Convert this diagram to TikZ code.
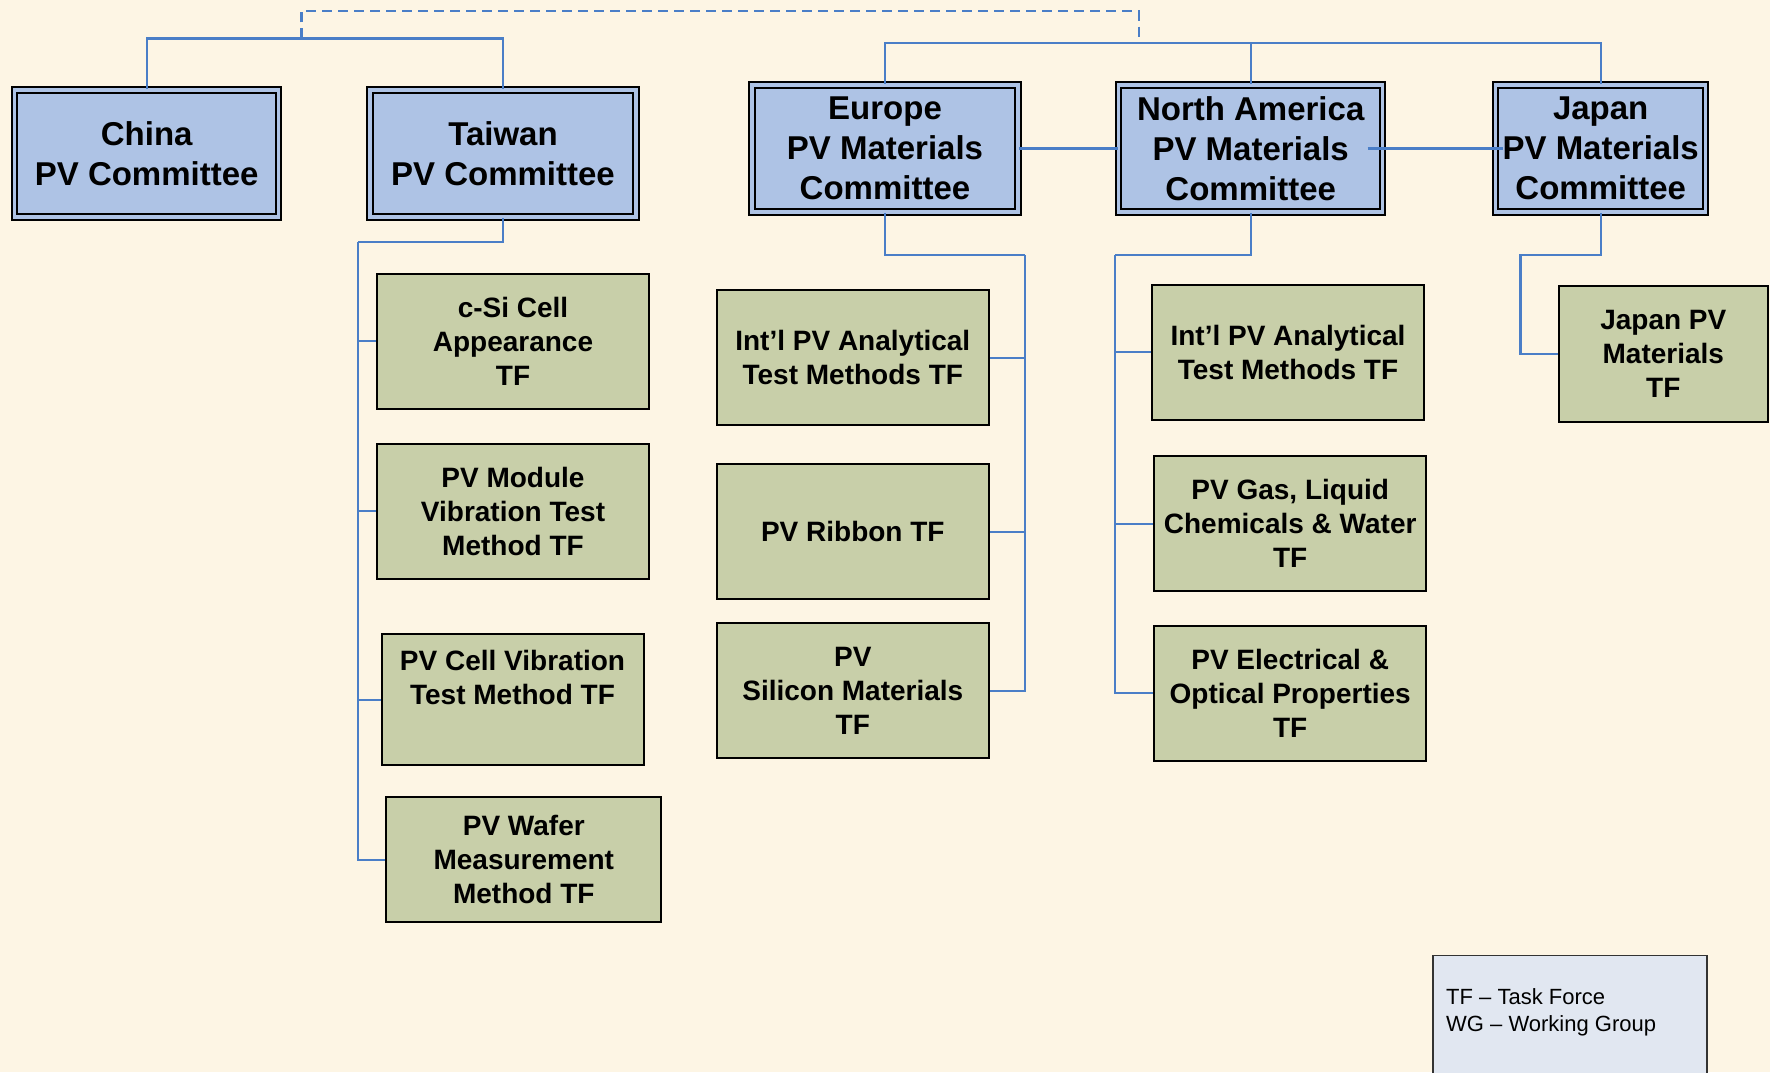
\documentclass[tikz,border=0pt]{standalone}
\usepackage{fontspec}
\setmainfont{Liberation Sans}
\definecolor{bgcream}{RGB}{253,245,228}
\definecolor{linkblue}{RGB}{74,126,199}
\definecolor{commblue}{RGB}{174,195,229}
\definecolor{tfgreen}{RGB}{200,207,169}
\definecolor{keyblue}{RGB}{225,231,241}
\begin{document}
\begin{tikzpicture}[x=1pt, y=-1pt,
	comm/.style = {draw, line width=1.9pt, double=commblue, double distance=3.5pt, fill=commblue,
		align=center, inner sep=0pt, minimum height=127pt,
		font=\bfseries\fontsize{33}{40}\selectfont},
	tf/.style   = {draw, line width=2pt, fill=tfgreen, align=center, inner sep=0pt,
		minimum width=272pt, minimum height=135pt,
		font=\bfseries\fontsize{28}{34}\selectfont},
	link/.style = {draw=linkblue, line width=2.2pt},
	keybox/.style = {draw=black!80, line width=1.2pt, fill=keyblue},
	]
	
	% page and background
	\useasboundingbox (0,0) rectangle (1770,1072);
	\fill[bgcream] (0,0) rectangle (1770,1072);
	
	% committees, top row
	\node[comm, minimum width=264pt] (cn) at (146.7,153.6) {China\\PV Committee};
	\node[comm, minimum width=266pt] (tw) at (503,153.6) {Taiwan\\PV Committee};
	\node[comm, minimum width=266pt] (eu) at (885,148.4) {Europe\\PV Materials\\Committee};
	\node[comm, minimum width=264pt] (na) at (1250.7,148.4) {North America\\PV Materials\\Committee};
	\node[comm, minimum width=210pt] (jp) at (1600.7,148.4) {Japan\\PV Materials\\Committee};
	
	% task forces under each committee
	\begin{scope}[every node/.style={tf}]
		\node (tw1) at (513,341) {c-Si Cell\\Appearance\\TF};
		\node (tw2) at (513,511.3) {PV Module\\Vibration Test\\Method TF};
		\node[minimum width=262pt, minimum height=131pt] (tw3) at (512.5,699.8) {PV Cell Vibration\\Test Method TF\\\strut};
		\node[minimum width=275pt, minimum height=125pt] (tw4) at (523.8,859.6) {PV Wafer\\Measurement\\Method TF};
		
		\node (eu1) at (852.8,357.8) {Int’l PV Analytical\\Test Methods TF};
		\node (eu2) at (852.8,531.7) {PV Ribbon TF};
		\node (eu3) at (852.8,690.8) {PV\\Silicon Materials\\TF};
		
		\node (na1) at (1288,352.2) {Int’l PV Analytical\\Test Methods TF};
		\node (na2) at (1290.2,523.8) {PV Gas, Liquid\\Chemicals \& Water\\TF};
		\node (na3) at (1290.2,693.1) {PV Electrical \&\\Optical Properties\\TF};
		
		\node[minimum width=209pt, minimum height=136pt] (jp1) at (1663.3,353.9) {Japan PV\\Materials\\TF};
	\end{scope}
	
	% bus points for the connectors
	\coordinate (asia) at (301.4,38.4);
	\coordinate (west) at (1139,42.9);
	\coordinate (dash) at (301.4,11.3);
	\coordinate (twbus) at (357.8,241.6);
	\coordinate (eubus) at (1025,255.1);
	\coordinate (nabus) at (1115.3,255.1);
	\coordinate (jpbus) at (1520.5,255.1);
	
	% top level links
	\draw[link] (cn.north) |- (asia) -| (tw.north);
	\draw[link] (eu.north) |- (west) -| (jp.north);
	\draw[link] (na.north) -- (na.north |- west);
	\draw[link, dash pattern=on 10pt off 6pt] (asia) -- (dash) -| (west);
	\draw[link] (eu.east) -- (na.west);
	\draw[link] ([xshift=-16pt]na.east) -- ([xshift=8pt]jp.west);
	
	% lines from each committee to its task forces
	\draw[link] (tw.south) |- (twbus);
	\foreach \value in {1,...,4}
	\draw[link] (twbus) |- (tw\value.west);
	
	\draw[link] (eu.south) |- (eubus);
	\foreach \value in {1,...,3}
	\draw[link] (eubus) |- (eu\value.east);
	
	\draw[link] (na.south) |- (nabus);
	\foreach \value in {1,...,3}
	\draw[link] (nabus) |- (na\value.west);
	
	\draw[link] (jp.south) |- (jpbus) |- (jp1.west);
	
	% legend
	\node[keybox, anchor=north west, minimum width=274pt, minimum height=140pt] (key) at (1432.4,955) {};
	\node[anchor=west, align=left, inner sep=0pt, font=\fontsize{22}{27}\selectfont] (keytext) at (1446,1012) {TF – Task Force\\WG – Working Group};
\end{tikzpicture}
\end{document}
